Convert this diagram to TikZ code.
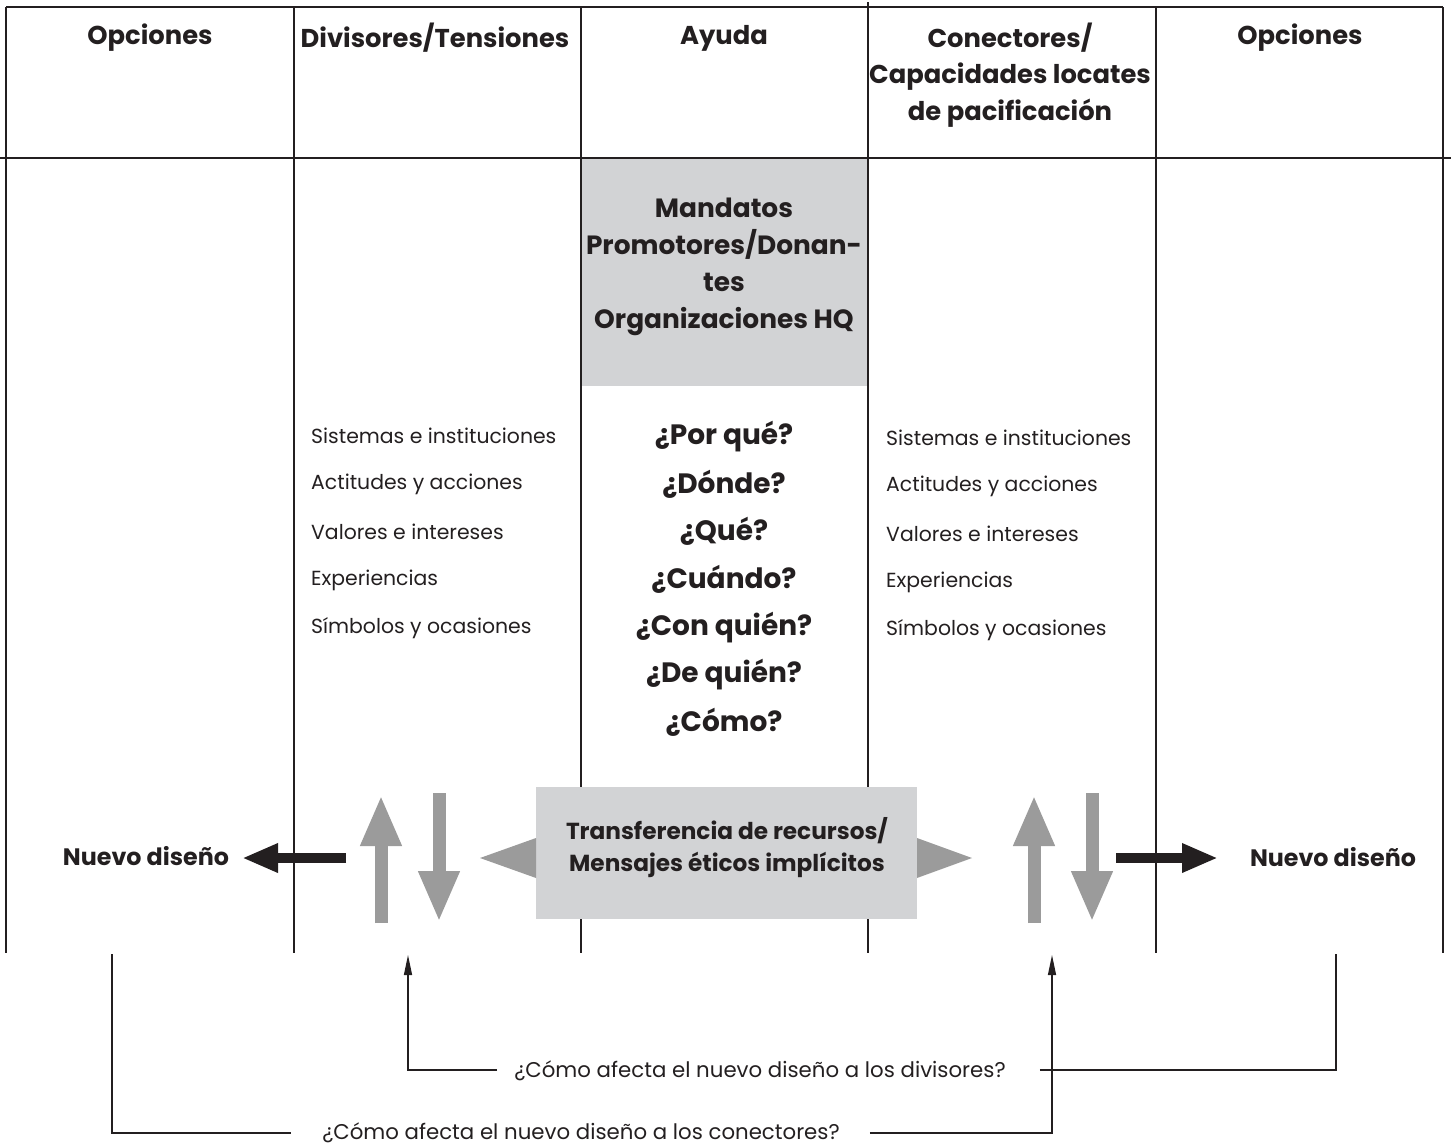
\documentclass[tikz,border=0pt]{standalone}
\usepackage{fontspec}
\setmainfont{Poppins}
\usetikzlibrary{arrows.meta}
\definecolor{boxgray}{HTML}{D2D3D5}
\definecolor{arrgray}{HTML}{9B9B9B}
\definecolor{ink}{HTML}{231F20}
\tikzset{
  rule/.style={draw=ink, line width=1.3pt},
  hdr/.style={font=\fontsize{25.8}{36.5}\selectfont\bfseries, align=center, text=ink, inner sep=0pt},
  body/.style={font=\fontsize{20.4}{24}\selectfont, anchor=west, text=ink, inner sep=0pt},
  ques/.style={font=\fontsize{28}{30}\selectfont\bfseries, text=ink, inner sep=0pt},
  mand/.style={font=\fontsize{26.4}{37}\selectfont\bfseries, align=center, text=ink, inner sep=0pt},
  trans/.style={font=\fontsize{23.2}{32}\selectfont\bfseries, align=center, text=ink, inner sep=0pt},
  nuevo/.style={font=\fontsize{23.8}{26}\selectfont\bfseries, text=ink, inner sep=0pt},
  qline/.style={font=\fontsize{21.3}{24}\selectfont, text=ink, inner sep=0pt, anchor=base},
  blockup/.style={arrgray, line width=13pt, -{Triangle[length=51pt,width=38pt]}},
  blackarr/.style={ink, line width=9.5pt, -{Triangle[length=36pt,width=27pt]}},
  thinarr/.style={draw=ink, line width=1.3pt, -{Triangle[length=20pt,width=8pt]}},
  thin/.style={draw=ink, line width=1.3pt},
}
\begin{document}
\begin{tikzpicture}[x=1pt,y=-1pt]
\useasboundingbox (0,0) rectangle (1451,1144);
% gray boxes
\fill[boxgray] (581,159) rectangle (868,386);
% grid
\draw[rule] (6,7) -- (1443,7);
\draw[rule] (0,158) -- (1451,158);
\draw[rule] (6,7) -- (6,953);
\draw[rule] (1443,7) -- (1443,953);
\draw[rule] (294,7) -- (294,953);
\draw[rule] (581,7) -- (581,953);
\draw[rule] (868,2) -- (868,953);
\draw[rule] (1156,7) -- (1156,953);
\node[fill=boxgray, minimum width=381pt, minimum height=132pt, inner sep=0pt] (trbox) at (726.5,853) {};
\node[trans] (tr) at (727,848) {Transferencia de recursos/\\Mensajes éticos implícitos};
% headers
\node[hdr] (h1) at (150,38) {Opciones};
\node[hdr] (h2) at (435,38) {Divisores/Tensiones};
\node[hdr] (h3) at (724,38) {Ayuda};
\node[hdr] (h4) at (1010,75) {Conectores/\\Capacidades locates\\de pacificación};
\node[hdr] (h5) at (1300,38) {Opciones};
% mandatos
\node[mand] (mand) at (724,267) {Mandatos\\Promotores/Donan-\\tes\\Organizaciones HQ};
% lists
\foreach \t [count=\i] in {Sistemas e instituciones,Actitudes y acciones,Valores e intereses,Experiencias,Símbolos y ocasiones}{
  \node[body] (l\i) at (311,{436+48*(\i-1)}) {\t};
  \node[body] (r\i) at (886,{438+48*(\i-1)}) {\t};
}
\node[ques] (q1) at (724,437) {¿Por qué?};
\node[ques] (q2) at (724,484) {¿Dónde?};
\node[ques] (q3) at (724,531) {¿Qué?};
\node[ques] (q4) at (724,579) {¿Cuándo?};
\node[ques] (q5) at (724,628) {¿Con quién?};
\node[ques] (q6) at (724,675) {¿De quién?};
\node[ques] (q7) at (724,722) {¿Cómo?};
% nuevo diseno
\node[nuevo] (nd1) at (146,856) {Nuevo diseño};
\node[nuevo] (nd2) at (1333,857) {Nuevo diseño};
\coordinate (la) at (346,858);
\coordinate (lt) at (242,858);
\draw[blackarr] (la) -- (lt);
\coordinate (ra) at (1116,858);
\coordinate (rt) at (1218,858);
\draw[blackarr] (ra) -- (rt);
% gray arrows
\draw[blockup] (381,923) -- (381,795);
\draw[blockup] (439,793) -- (439,922);
\draw[blockup] (1034,923) -- (1034,795);
\draw[blockup] (1092,793) -- (1092,922);
% triangles
\fill[arrgray] (536,838) -- (480,858) -- (536,878) -- cycle;
\fill[arrgray] (917,838) -- (972,858) -- (917,878) -- cycle;
% bottom questions
\node[qline] (qd) at (760,1077) {¿Cómo afecta el nuevo diseño a los divisores?};
\node[qline] (qc) at (581,1139) {¿Cómo afecta el nuevo diseño a los conectores?};
\coordinate (dtip) at (408,955);
\coordinate (dcorner) at (408,1070);
\coordinate (dright) at (1336,1070);
\coordinate (dtop) at (1336,954);
\path ([xshift=-17pt]qd.west) coordinate (dl0) ([xshift=34pt]qd.east) coordinate (dr0);
\draw[thinarr] (dl0 |- dcorner) -- (dcorner) -- (dtip);
\draw[thin] (dr0 |- dright) -- (dright) -- (dtop);
\coordinate (ctop) at (112,954);
\coordinate (ccorner) at (112,1133);
\coordinate (cright) at (1052,1133);
\coordinate (ctip) at (1052,955);
\path ([xshift=-31pt]qc.west) coordinate (cl0) ([xshift=30pt]qc.east) coordinate (cr0);
\draw[thin] (ctop) -- (ccorner) -- (cl0 |- ccorner);
\draw[thinarr] (cr0 |- cright) -- (cright) -- (ctip);
\end{tikzpicture}
\end{document}
